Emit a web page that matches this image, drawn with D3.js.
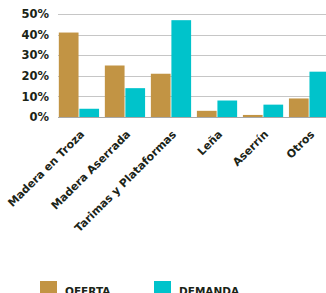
<!DOCTYPE html>
<html>
<head>
<meta charset="utf-8">
<script src="https://cdn.jsdelivr.net/npm/d3@7"></script>
<style>
  body { margin: 0; background: #fff; }
  svg { display: block; }
  text { font-family: "DejaVu Sans", sans-serif; font-weight: bold; fill: #1b2417; }
</style>
</head>
<body>
<div id="chart"></div>
<script>
const categories = ["Madera en Troza", "Madera Aserrada", "Tarimas y Plataformas", "Leña", "Aserrín", "Otros"];
const series = ["OFERTA", "DEMANDA"];
const oferta = [41, 25, 21, 3, 1, 9];
const demanda = [4, 14, 47, 8, 6, 22];
const yTicks = [0, 10, 20, 30, 40, 50];
const colors = ["#c29444", "#00c3cb"];

const width = 326, height = 293;
const margin = {top: 14, right: -4, bottom: 176, left: 58};
const innerW = width - margin.left - margin.right;
const innerH = height - margin.top - margin.bottom;

const svg = d3.select("#chart").append("svg")
    .attr("width", width)
    .attr("height", height);

const g = svg.append("g")
    .attr("transform", `translate(${margin.left},${margin.top})`);

const x0 = d3.scaleBand()
    .domain(categories)
    .range([0, innerW])
    .paddingInner(0.09)
    .paddingOuter(0);

const x1 = d3.scaleBand()
    .domain(series)
    .range([0, x0.bandwidth()])
    .padding(0.04);

const y = d3.scaleLinear()
    .domain([0, 50])
    .range([innerH, 0]);

// gridlines
g.selectAll("line.grid")
  .data(yTicks)
  .join("line")
    .attr("class", "grid")
    .attr("x1", 0)
    .attr("x2", width - margin.left)
    .attr("y1", d => Math.round(y(d)) + 0.5)
    .attr("y2", d => Math.round(y(d)) + 0.5)
    .attr("stroke", d => d === 0 ? "#a8a8a8" : "#c6c6c6")
    .attr("stroke-width", 1);

// y labels
g.selectAll("text.ytick")
  .data(yTicks)
  .join("text")
    .attr("class", "ytick")
    .attr("x", -9)
    .attr("y", d => y(d))
    .attr("dy", "0.36em")
    .attr("text-anchor", "end")
    .style("font-size", "11.5px")
    .text(d => d + "%");

// bars
const rows = categories.map((c, i) => ({cat: c, values: [oferta[i], demanda[i]]}));

const groups = g.selectAll("g.group")
  .data(rows)
  .join("g")
    .attr("class", "group")
    .attr("transform", d => `translate(${x0(d.cat)},0)`);

groups.selectAll("rect")
  .data(d => d.values.map((v, i) => ({key: series[i], value: v, i})))
  .join("rect")
    .attr("x", d => x1(d.key))
    .attr("y", d => y(d.value))
    .attr("width", x1.bandwidth())
    .attr("height", d => innerH - y(d.value))
    .attr("fill", d => colors[d.i]);

// x labels, rotated
g.selectAll("text.xtick")
  .data(categories)
  .join("text")
    .attr("class", "xtick")
    .attr("transform", d => `translate(${x0(d) + x0.bandwidth() / 2 + 6},${innerH + 18}) rotate(-45)`)
    .attr("text-anchor", "end")
    .style("font-size", "11px")
    .text(d => d);

// legend
const legend = svg.append("g")
    .attr("transform", "translate(40,281)");

const legendX = d3.scaleOrdinal().domain(series).range([0, 114]);

const item = legend.selectAll("g")
  .data(series)
  .join("g")
    .attr("transform", d => `translate(${legendX(d)},0)`);

item.append("rect")
    .attr("width", 17)
    .attr("height", 17)
    .attr("fill", (d, i) => colors[i]);

item.append("text")
    .attr("x", 25)
    .attr("y", 14)
    .style("font-size", "10.5px")
    .text(d => d);
</script>
</body>
</html>
